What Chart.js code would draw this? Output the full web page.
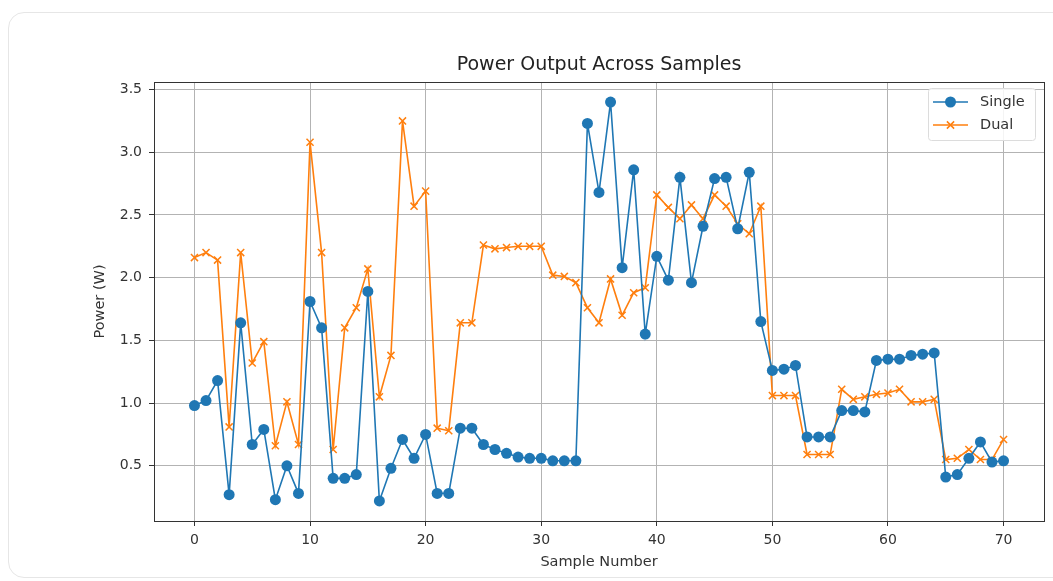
<!DOCTYPE html>
<html>
<head>
<meta charset="utf-8">
<title>Power Output Across Samples</title>
<script src="https://cdn.jsdelivr.net/npm/chart.js@4/dist/chart.umd.min.js"></script>
<style>
  html, body { margin: 0; padding: 0; background: #fff; }
  .card {
    position: absolute; left: 8px; top: 12px;
    width: 1070px; height: 564px;
    border: 1px solid #e6e6e6; border-radius: 16px;
  }
  .wrap { position: absolute; left: 0; top: 0; width: 1053px; height: 581px; }
</style>
</head>
<body>
<div class="card"></div>
<div class="wrap"><canvas id="power-chart"></canvas></div>
<script>
// values
const chartTitle = 'Power Output Across Samples';
const xLabel = 'Sample Number';
const yLabel = 'Power (W)';
const seriesNames = ['Single', 'Dual'];

const sampleNumbers = [
  0, 1, 2, 3, 4, 5, 6, 7, 8, 9,
  10, 11, 12, 13, 14, 15, 16, 17, 18, 19,
  20, 21, 22, 23, 24, 25, 26, 27, 28, 29,
  30, 31, 32, 33, 34, 35, 36, 37, 38, 39,
  40, 41, 42, 43, 44, 45, 46, 47, 48, 49,
  50, 51, 52, 53, 54, 55, 56, 57, 58, 59,
  60, 61, 62, 63, 64, 65, 66, 67, 68, 69,
  70
];

const singlePower = [
  0.98, 1.02, 1.18, 0.27, 1.64, 0.67, 0.79, 0.23, 0.50, 0.28,
  1.81, 1.60, 0.40, 0.40, 0.43, 1.89, 0.22, 0.48, 0.71, 0.56,
  0.75, 0.28, 0.28, 0.80, 0.80, 0.67, 0.63, 0.60, 0.57, 0.56,
  0.56, 0.54, 0.54, 0.54, 3.23, 2.68, 3.40, 2.08, 2.86, 1.55,
  2.17, 1.98, 2.80, 1.96, 2.41, 2.79, 2.80, 2.39, 2.84, 1.65,
  1.26, 1.27, 1.30, 0.73, 0.73, 0.73, 0.94, 0.94, 0.93, 1.34,
  1.35, 1.35, 1.38, 1.39, 1.40, 0.41, 0.43, 0.56, 0.69, 0.53,
  0.54
];

const dualPower = [
  2.16, 2.20, 2.14, 0.81, 2.20, 1.32, 1.49, 0.66, 1.01, 0.67,
  3.08, 2.20, 0.63, 1.60, 1.76, 2.07, 1.05, 1.38, 3.25, 2.57,
  2.69, 0.80, 0.78, 1.64, 1.64, 2.26, 2.23, 2.24, 2.25, 2.25,
  2.25, 2.02, 2.01, 1.96, 1.76, 1.64, 1.99, 1.70, 1.88, 1.92,
  2.66, 2.56, 2.47, 2.58, 2.47, 2.66, 2.57, 2.43, 2.35, 2.57,
  1.06, 1.06, 1.06, 0.59, 0.59, 0.59, 1.11, 1.03, 1.05, 1.07,
  1.08, 1.11, 1.01, 1.01, 1.03, 0.55, 0.56, 0.63, 0.55, 0.55,
  0.71
];

const xTicks = [0, 10, 20, 30, 40, 50, 60, 70];
const yTicks = [0.5, 1.0, 1.5, 2.0, 2.5, 3.0, 3.5];

const FONT = '"DejaVu Sans", sans-serif';
const BLUE = '#1f77b4';
const ORANGE = '#ff7f0e';

// title centred over the plot area, plus frame round the axes
const framePlugin = {
  id: 'frame',
  afterDraw(chart) {
    const { ctx, chartArea: a } = chart;
    ctx.save();
    ctx.strokeStyle = '#333';
    ctx.lineWidth = 1;
    ctx.strokeRect(a.left + 0.5, a.top + 0.5, a.right - a.left, a.bottom - a.top);
    ctx.font = '19px ' + FONT;
    ctx.fillStyle = '#222';
    ctx.textAlign = 'center';
    ctx.textBaseline = 'middle';
    ctx.fillText(chartTitle, (a.left + a.right) / 2, 65);
    ctx.restore();
  }
};

// matplotlib-like legend: line with marker, then name
const legendPlugin = {
  id: 'mplLegend',
  afterDraw(chart) {
    const { ctx, chartArea: a } = chart;
    const x0 = a.right - 116, y0 = a.top + 6, w = 107, h = 52;
    ctx.save();
    ctx.fillStyle = 'rgba(255,255,255,0.85)';
    ctx.strokeStyle = '#dcdcdc';
    ctx.lineWidth = 1;
    ctx.beginPath();
    ctx.roundRect(x0 + 0.5, y0 + 0.5, w, h, 3);
    ctx.fill();
    ctx.stroke();
    ctx.font = '14.5px ' + FONT;
    ctx.textBaseline = 'middle';
    chart.data.datasets.forEach((ds, i) => {
      const y = y0 + 14 + i * 23;
      const lx = x0 + 5, mx = lx + 17.5;
      ctx.strokeStyle = ds.borderColor;
      ctx.lineWidth = 1.5;
      ctx.beginPath();
      ctx.moveTo(lx, y);
      ctx.lineTo(lx + 35, y);
      ctx.stroke();
      if (ds.pointStyle === 'circle') {
        ctx.fillStyle = ds.borderColor;
        ctx.beginPath();
        ctx.arc(mx, y, 5.5, 0, Math.PI * 2);
        ctx.fill();
      } else {
        const r = 3.6;
        ctx.beginPath();
        ctx.moveTo(mx - r, y - r); ctx.lineTo(mx + r, y + r);
        ctx.moveTo(mx - r, y + r); ctx.lineTo(mx + r, y - r);
        ctx.stroke();
      }
      ctx.fillStyle = '#333';
      ctx.textAlign = 'left';
      ctx.fillText(ds.label, lx + 47, y);
    });
    ctx.restore();
  }
};

function makeChart() {
  const ctx = document.getElementById('power-chart');
  if (!ctx) return;

  new Chart(ctx, {
    type: 'line',
    data: {
      datasets: [{
        label: seriesNames[0],
        data: sampleNumbers.map((n, i) => ({ x: n, y: singlePower[i] })),
        borderColor: BLUE,
        backgroundColor: BLUE,
        borderWidth: 1.6,
        pointStyle: 'circle',
        pointRadius: 5.5,
        pointBorderWidth: 0,
        pointBackgroundColor: BLUE,
        tension: 0
      }, {
        label: seriesNames[1],
        data: sampleNumbers.map((n, i) => ({ x: n, y: dualPower[i] })),
        borderColor: ORANGE,
        backgroundColor: ORANGE,
        borderWidth: 1.6,
        pointStyle: 'crossRot',
        pointRadius: 5,
        pointBorderWidth: 1.5,
        pointBorderColor: ORANGE,
        tension: 0
      }]
    },
    options: {
      responsive: true,
      maintainAspectRatio: false,
      animation: false,
      layout: { padding: { left: 88, right: 9, top: 82, bottom: 6 } },
      plugins: {
        legend: { display: false },
        title: { display: false },
        tooltip: { enabled: false }
      },
      scales: {
        x: {
          type: 'linear',
          min: -3.5,
          max: 73.5,
          afterBuildTicks: s => { s.ticks = xTicks.map(v => ({ value: v })); },
          afterFit: s => { s.height = 54; },
          grid: { color: '#b3b3b3', lineWidth: 1, tickColor: '#333', tickLength: 5 },
          border: { display: false },
          ticks: {
            autoSkip: false,
            maxRotation: 0,
            padding: 6,
            color: '#333',
            font: { family: FONT, size: 14 }
          },
          title: {
            display: true,
            text: xLabel,
            color: '#333',
            font: { family: FONT, size: 14.5 }
          }
        },
        y: {
          min: 0.06,
          max: 3.56,
          afterBuildTicks: s => { s.ticks = yTicks.map(v => ({ value: v })); },
          afterFit: s => { s.width = 66; },
          grid: { color: '#b3b3b3', lineWidth: 1, tickColor: '#333', tickLength: 5 },
          border: { display: false },
          ticks: {
            padding: 7,
            color: '#333',
            font: { family: FONT, size: 14 },
            callback: v => Number(v).toFixed(1)
          },
          title: {
            display: true,
            text: yLabel,
            color: '#333',
            font: { family: FONT, size: 14.5 }
          }
        }
      }
    },
    plugins: [framePlugin, legendPlugin]
  });
}

makeChart();
</script>
</body>
</html>
